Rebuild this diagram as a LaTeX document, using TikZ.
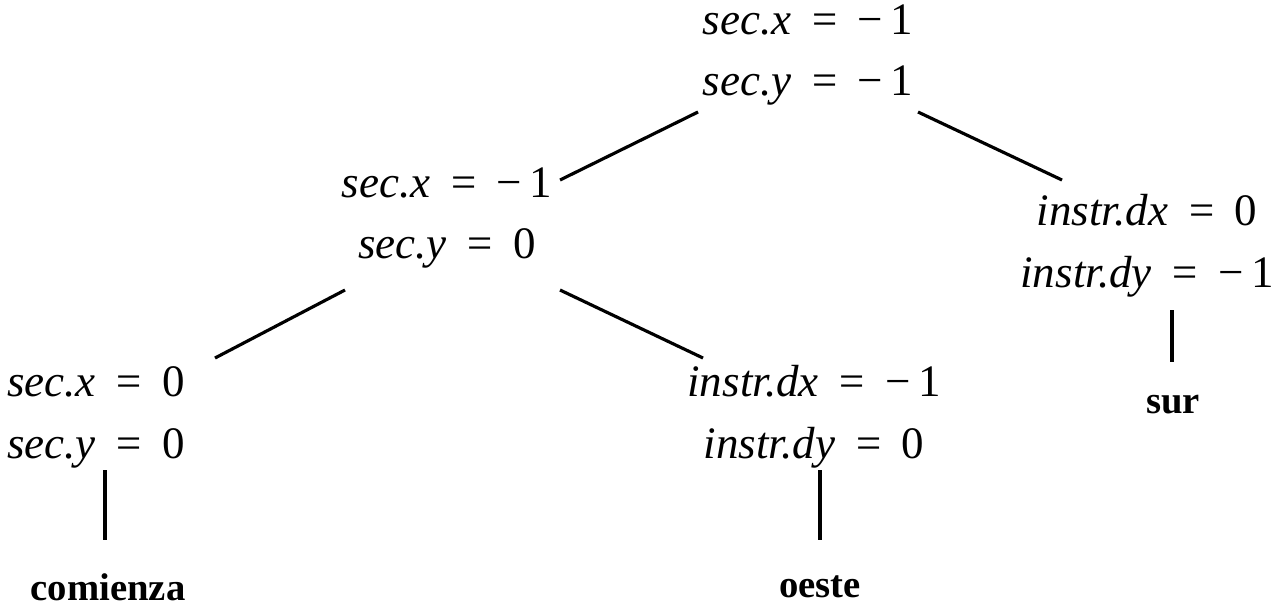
\documentclass[tikz,border=0pt]{standalone}
\usepackage{fontspec}
\setmainfont{Liberation Serif}
\usepackage{tikz}
\usetikzlibrary{calc}

\newcommand{\eqs}{\hspace{.4em}=\hspace{.4em}}

\begin{document}
\begin{tikzpicture}[
  x=0.01cm, y=-0.01cm,
  cond/.style={align=center, inner sep=0pt, font=\fontsize{12.8}{17.6}\selectfont\itshape},
  leaf/.style={inner sep=0pt, font=\fontsize{11}{13}\selectfont\bfseries},
  edge/.style={line width=0.9pt}
]
\useasboundingbox (0,0) rectangle (1277,605);
\node[cond] (root)  at (808,55)  {sec.x\eqs\upshape−\,1\\sec.y\eqs\upshape−\,1};
\node[cond] (secx)  at (447,218) {sec.x\eqs\upshape−\,1\\sec.y\eqs\upshape0};
\node[cond] (dy)    at (1147,246) {instr.dx\eqs\upshape0\\instr.dy\eqs\upshape−\,1};
\node[cond] (zero)  at (96,417)  {sec.x\eqs\upshape0\\sec.y\eqs\upshape0};
\node[cond] (dx)    at (814,417) {instr.dx\eqs\upshape−\,1\\instr.dy\eqs\upshape0};
\node[leaf] (com)   at (108,587) {comienza};
\node[leaf] (oes)   at (820,587) {oeste};
\node[leaf] (sur)   at (1173,405) {sur};
\draw[edge] ($(root)+(-110,57)$) -- ($(secx)+(113,-38)$);
\draw[edge] ($(root)+(110,57)$)  -- ($(dy)+(-85,-66)$);
\draw[edge] ($(secx)+(-102,72)$) -- ($(zero)+(119,-59)$);
\draw[edge] ($(secx)+(113,72)$)  -- ($(dx)+(-111,-59)$);
\draw[edge] ($(dy)+(25,64)$)     -- ($(sur)+(-1,-43)$);
\draw[edge] ($(zero)+(9,53)$)    -- ($(com)+(-3,-47)$);
\draw[edge] ($(dx)+(6,53)$)      -- ($(oes)+(0,-47)$);
\end{tikzpicture}
\end{document}
